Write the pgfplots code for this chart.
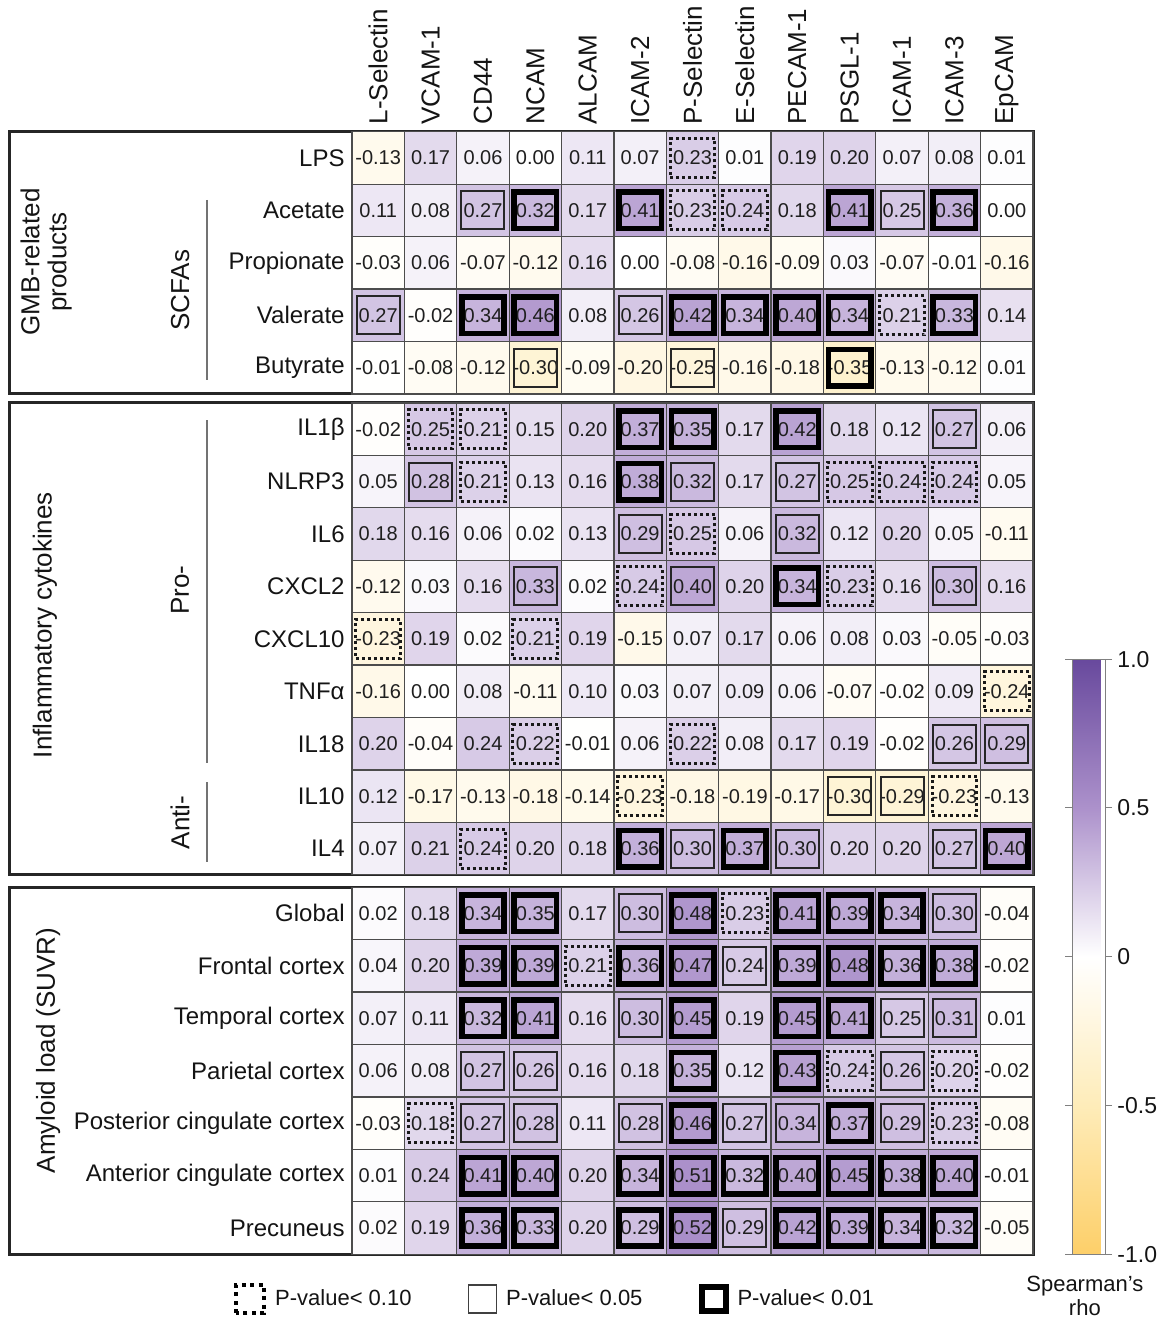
\documentclass[border=0pt]{standalone}
\usepackage{fontspec}
\setmainfont{Liberation Sans}
\usepackage{pgfplots}
\usepackage{pgfplotstable}
\pgfplotsset{compat=1.18}
% significance boxes drawn inside the cells
\pgfdeclareplotmark{blank}{}
\pgfdeclareplotmark{boxdot}{\pgfpathrectangle{\pgfqpoint{-11.2pt}{-9.75pt}}{\pgfqpoint{22.4pt}{19.5pt}}\pgfusepathqstroke}
\pgfdeclareplotmark{boxthin}{\pgfpathrectangle{\pgfqpoint{-10.75pt}{-9.5pt}}{\pgfqpoint{21.5pt}{19pt}}\pgfusepathqstroke}
\pgfdeclareplotmark{boxthick}{\pgfpathrectangle{\pgfqpoint{-10.6pt}{-9.1pt}}{\pgfqpoint{21.2pt}{18.2pt}}\pgfusepathqstroke}
% r = row (0 LPS ... 20 Precuneus), c = column (0 L-Selectin ... 12 EpCAM)
% v = Spearman's rho, k = box (0 none, 1 P<0.10, 2 P<0.05, 3 P<0.01)
\pgfplotstableread[row sep=\\]{
r c v k\\
0 0 -0.13 0\\ 0 1 0.17 0\\ 0 2 0.06 0\\ 0 3 0.00 0\\ 0 4 0.11 0\\ 0 5 0.07 0\\ 0 6 0.23 1\\ 0 7 0.01 0\\ 0 8 0.19 0\\ 0 9 0.20 0\\ 0 10 0.07 0\\ 0 11 0.08 0\\ 0 12 0.01 0\\
1 0 0.11 0\\ 1 1 0.08 0\\ 1 2 0.27 2\\ 1 3 0.32 3\\ 1 4 0.17 0\\ 1 5 0.41 3\\ 1 6 0.23 1\\ 1 7 0.24 1\\ 1 8 0.18 0\\ 1 9 0.41 3\\ 1 10 0.25 2\\ 1 11 0.36 3\\ 1 12 0.00 0\\
2 0 -0.03 0\\ 2 1 0.06 0\\ 2 2 -0.07 0\\ 2 3 -0.12 0\\ 2 4 0.16 0\\ 2 5 0.00 0\\ 2 6 -0.08 0\\ 2 7 -0.16 0\\ 2 8 -0.09 0\\ 2 9 0.03 0\\ 2 10 -0.07 0\\ 2 11 -0.01 0\\ 2 12 -0.16 0\\
3 0 0.27 2\\ 3 1 -0.02 0\\ 3 2 0.34 3\\ 3 3 0.46 3\\ 3 4 0.08 0\\ 3 5 0.26 2\\ 3 6 0.42 3\\ 3 7 0.34 3\\ 3 8 0.40 3\\ 3 9 0.34 3\\ 3 10 0.21 1\\ 3 11 0.33 3\\ 3 12 0.14 0\\
4 0 -0.01 0\\ 4 1 -0.08 0\\ 4 2 -0.12 0\\ 4 3 -0.30 2\\ 4 4 -0.09 0\\ 4 5 -0.20 0\\ 4 6 -0.25 2\\ 4 7 -0.16 0\\ 4 8 -0.18 0\\ 4 9 -0.35 3\\ 4 10 -0.13 0\\ 4 11 -0.12 0\\ 4 12 0.01 0\\
5 0 -0.02 0\\ 5 1 0.25 1\\ 5 2 0.21 1\\ 5 3 0.15 0\\ 5 4 0.20 0\\ 5 5 0.37 3\\ 5 6 0.35 3\\ 5 7 0.17 0\\ 5 8 0.42 3\\ 5 9 0.18 0\\ 5 10 0.12 0\\ 5 11 0.27 2\\ 5 12 0.06 0\\
6 0 0.05 0\\ 6 1 0.28 2\\ 6 2 0.21 1\\ 6 3 0.13 0\\ 6 4 0.16 0\\ 6 5 0.38 3\\ 6 6 0.32 2\\ 6 7 0.17 0\\ 6 8 0.27 2\\ 6 9 0.25 1\\ 6 10 0.24 1\\ 6 11 0.24 1\\ 6 12 0.05 0\\
7 0 0.18 0\\ 7 1 0.16 0\\ 7 2 0.06 0\\ 7 3 0.02 0\\ 7 4 0.13 0\\ 7 5 0.29 2\\ 7 6 0.25 1\\ 7 7 0.06 0\\ 7 8 0.32 2\\ 7 9 0.12 0\\ 7 10 0.20 0\\ 7 11 0.05 0\\ 7 12 -0.11 0\\
8 0 -0.12 0\\ 8 1 0.03 0\\ 8 2 0.16 0\\ 8 3 0.33 2\\ 8 4 0.02 0\\ 8 5 0.24 1\\ 8 6 0.40 2\\ 8 7 0.20 0\\ 8 8 0.34 3\\ 8 9 0.23 1\\ 8 10 0.16 0\\ 8 11 0.30 2\\ 8 12 0.16 0\\
9 0 -0.23 1\\ 9 1 0.19 0\\ 9 2 0.02 0\\ 9 3 0.21 1\\ 9 4 0.19 0\\ 9 5 -0.15 0\\ 9 6 0.07 0\\ 9 7 0.17 0\\ 9 8 0.06 0\\ 9 9 0.08 0\\ 9 10 0.03 0\\ 9 11 -0.05 0\\ 9 12 -0.03 0\\
10 0 -0.16 0\\ 10 1 0.00 0\\ 10 2 0.08 0\\ 10 3 -0.11 0\\ 10 4 0.10 0\\ 10 5 0.03 0\\ 10 6 0.07 0\\ 10 7 0.09 0\\ 10 8 0.06 0\\ 10 9 -0.07 0\\ 10 10 -0.02 0\\ 10 11 0.09 0\\ 10 12 -0.24 1\\
11 0 0.20 0\\ 11 1 -0.04 0\\ 11 2 0.24 0\\ 11 3 0.22 1\\ 11 4 -0.01 0\\ 11 5 0.06 0\\ 11 6 0.22 1\\ 11 7 0.08 0\\ 11 8 0.17 0\\ 11 9 0.19 0\\ 11 10 -0.02 0\\ 11 11 0.26 2\\ 11 12 0.29 2\\
12 0 0.12 0\\ 12 1 -0.17 0\\ 12 2 -0.13 0\\ 12 3 -0.18 0\\ 12 4 -0.14 0\\ 12 5 -0.23 1\\ 12 6 -0.18 0\\ 12 7 -0.19 0\\ 12 8 -0.17 0\\ 12 9 -0.30 2\\ 12 10 -0.29 2\\ 12 11 -0.23 1\\ 12 12 -0.13 0\\
13 0 0.07 0\\ 13 1 0.21 0\\ 13 2 0.24 1\\ 13 3 0.20 0\\ 13 4 0.18 0\\ 13 5 0.36 3\\ 13 6 0.30 2\\ 13 7 0.37 3\\ 13 8 0.30 2\\ 13 9 0.20 0\\ 13 10 0.20 0\\ 13 11 0.27 2\\ 13 12 0.40 3\\
14 0 0.02 0\\ 14 1 0.18 0\\ 14 2 0.34 3\\ 14 3 0.35 3\\ 14 4 0.17 0\\ 14 5 0.30 2\\ 14 6 0.48 3\\ 14 7 0.23 1\\ 14 8 0.41 3\\ 14 9 0.39 3\\ 14 10 0.34 3\\ 14 11 0.30 2\\ 14 12 -0.04 0\\
15 0 0.04 0\\ 15 1 0.20 0\\ 15 2 0.39 3\\ 15 3 0.39 3\\ 15 4 0.21 1\\ 15 5 0.36 3\\ 15 6 0.47 3\\ 15 7 0.24 2\\ 15 8 0.39 3\\ 15 9 0.48 3\\ 15 10 0.36 3\\ 15 11 0.38 3\\ 15 12 -0.02 0\\
16 0 0.07 0\\ 16 1 0.11 0\\ 16 2 0.32 3\\ 16 3 0.41 3\\ 16 4 0.16 0\\ 16 5 0.30 2\\ 16 6 0.45 3\\ 16 7 0.19 0\\ 16 8 0.45 3\\ 16 9 0.41 3\\ 16 10 0.25 2\\ 16 11 0.31 2\\ 16 12 0.01 0\\
17 0 0.06 0\\ 17 1 0.08 0\\ 17 2 0.27 2\\ 17 3 0.26 2\\ 17 4 0.16 0\\ 17 5 0.18 0\\ 17 6 0.35 3\\ 17 7 0.12 0\\ 17 8 0.43 3\\ 17 9 0.24 1\\ 17 10 0.26 2\\ 17 11 0.20 1\\ 17 12 -0.02 0\\
18 0 -0.03 0\\ 18 1 0.18 1\\ 18 2 0.27 2\\ 18 3 0.28 2\\ 18 4 0.11 0\\ 18 5 0.28 2\\ 18 6 0.46 3\\ 18 7 0.27 2\\ 18 8 0.34 2\\ 18 9 0.37 3\\ 18 10 0.29 2\\ 18 11 0.23 1\\ 18 12 -0.08 0\\
19 0 0.01 0\\ 19 1 0.24 0\\ 19 2 0.41 3\\ 19 3 0.40 3\\ 19 4 0.20 0\\ 19 5 0.34 3\\ 19 6 0.51 3\\ 19 7 0.32 3\\ 19 8 0.40 3\\ 19 9 0.45 3\\ 19 10 0.38 3\\ 19 11 0.40 3\\ 19 12 -0.01 0\\
20 0 0.02 0\\ 20 1 0.19 0\\ 20 2 0.36 3\\ 20 3 0.33 3\\ 20 4 0.20 0\\ 20 5 0.29 3\\ 20 6 0.52 3\\ 20 7 0.29 2\\ 20 8 0.42 3\\ 20 9 0.39 3\\ 20 10 0.34 3\\ 20 11 0.32 3\\ 20 12 -0.05 0\\
}\rhotable
\def\ypos{-(\thisrow{r}+0.5)-0.172*(\thisrow{r}>4)-0.236*(\thisrow{r}>13)}
\begin{document}
\begin{tikzpicture}
\begin{axis}[
  at={(176pt,-65.9pt)}, anchor=north west,
  scale only axis, width=340.5pt, height=561.2pt,
  xmin=-0.5, xmax=12.5, ymin=-21.408, ymax=0,
  clip=false,
  axis line style={draw=none},
  major tick length=0pt,
  xtick={0,...,12},
  xticklabels={L-Selectin,VCAM-1,CD44,NCAM,ALCAM,ICAM-2,P-Selectin,E-Selectin,PECAM-1,PSGL-1,ICAM-1,ICAM-3,EpCAM},
  xticklabel pos=upper,
  xticklabel style={rotate=90, anchor=west, inner sep=0pt, font=\fontsize{13}{15}\selectfont, text=black!92},
  xticklabel shift=3.5pt,
  ytick={-0.5,-1.5,-2.5,-3.5,-4.5,-5.672,-6.672,-7.672,-8.672,-9.672,-10.672,-11.672,-12.672,-13.672,-14.908,-15.908,-16.908,-17.908,-18.908,-19.908,-20.908},
  yticklabels={LPS,Acetate,Propionate,Valerate,Butyrate,IL1β,NLRP3,IL6,CXCL2,CXCL10,TNFα,IL18,IL10,IL4,Global,Frontal cortex,Temporal cortex,Parietal cortex,Posterior cingulate cortex,Anterior cingulate cortex,Precuneus},
  yticklabel style={anchor=east, inner sep=0pt, font=\fontsize{12}{14}\selectfont, text=black!92},
  yticklabel shift=3.5pt,
  colormap={spear}{rgb255=(253,207,105) rgb255=(254,236,185) rgb255=(255,255,255) rgb255=(172,145,203) rgb255=(104,73,157)},
  point meta min=-1, point meta max=1,
  colorbar,
  colorbar style={
    at={(parent axis.south east)}, anchor=south west, xshift=11pt,
    scale only axis, width=16.5pt, height=297.5pt,
    ytick={-1,-0.5,0,0.5,1},
    yticklabels={-1.0,-0.5,0,0.5,1.0},
    yticklabel style={font=\fontsize{11.5}{13}\selectfont, inner sep=0pt, anchor=west, text=black!92},
    yticklabel shift=2.5pt,
    axis line style={draw=black!50, line width=0.5pt},
    tick style={draw=black!50, line width=0.5pt},
    major tick length=3.5pt,
    tick align=outside,
    ytick pos=both, yticklabel pos=right,
  },
  legend style={at={(0.2996,-0.0399)}, anchor=center, draw=none, fill=none,
    legend columns=3, font=\fontsize{11}{13}\selectfont, text=black!92,
    /tikz/every odd column/.append style={column sep=2.5pt},
    /tikz/every even column/.append style={column sep=26pt}},
]
\addlegendimage{legend image code/.code={\draw[black, line width=2pt, dash pattern=on 2pt off 2.2pt] (0pt,-7pt) rectangle (14pt,7pt);}}
\addlegendentry{P-value< 0.10}
\addlegendimage{legend image code/.code={\draw[black!75, line width=0.8pt] (0pt,-7pt) rectangle (14pt,7pt);}}
\addlegendentry{P-value< 0.05}
\addlegendimage{legend image code/.code={\draw[black, line width=3pt] (1pt,-6pt) rectangle (13pt,6pt);}}
\addlegendentry{P-value< 0.01}

% cells
\addplot [scatter, only marks, mark=square*, mark size=13.1pt, line width=0.6pt,
  scatter/use mapped color={draw=black!70, fill=mapped color},
  point meta=\thisrow{v}, forget plot]
  table [x=c, y expr=\ypos] {\rhotable};
% numbers
\addplot [only marks, mark=none, point meta=\thisrow{v}, forget plot,
  nodes near coords={\pgfmathprintnumber[fixed, fixed zerofill, precision=2, assume math mode=true]{\pgfplotspointmeta}},
  every node near coord/.style={anchor=center, inner sep=0pt, font=\fontsize{10}{12}\selectfont, text=black!88}]
  table [x=c, y expr=\ypos] {\rhotable};
% significance boxes
\addplot [scatter, only marks, forget plot, point meta=explicit symbolic,
  scatter/classes={
    0={mark=blank},
    1={mark=boxdot, draw=black!90, line width=1.5pt, dash pattern=on 1.5pt off 1.5pt},
    2={mark=boxthin, draw=black!85, line width=1pt, solid},
    3={mark=boxthick, draw=black, line width=2.8pt, solid}}]
  table [x=c, y expr=\ypos, meta=k] {\rhotable};

% panel frames and group labels
\draw[line width=1.5pt, black!85] (axis cs:-7.03,0) rectangle (axis cs:12.5,-5);
\draw[line width=1.5pt, black!85] (axis cs:-7.03,-5.172) rectangle (axis cs:12.5,-14.172);
\draw[line width=1.5pt, black!85] (axis cs:-7.03,-14.408) rectangle (axis cs:12.5,-21.408);
\draw[black!55, line width=0.8pt] (axis cs:-3.267,-1.30) -- (axis cs:-3.267,-4.74);
\draw[black!55, line width=0.8pt] (axis cs:-3.267,-5.50) -- (axis cs:-3.267,-12.03);
\draw[black!55, line width=0.8pt] (axis cs:-3.267,-12.41) -- (axis cs:-3.267,-13.93);
\node[rotate=90, align=center, font=\fontsize{13}{13.5}\selectfont, text=black!92] at (axis cs:-6.34,-2.485) {GMB-related\\products};
\node[rotate=90, font=\fontsize{13}{15}\selectfont, text=black!92] at (axis cs:-6.36,-9.41) {Inflammatory cytokines};
\node[rotate=90, font=\fontsize{13}{15}\selectfont, text=black!92] at (axis cs:-6.30,-17.52) {Amyloid load (SUVR)};
\node[rotate=90, font=\fontsize{13}{15}\selectfont, text=black!92] at (axis cs:-3.78,-3.02) {SCFAs};
\node[rotate=90, font=\fontsize{13}{15}\selectfont, text=black!92] at (axis cs:-3.78,-8.74) {Pro-};
\node[rotate=90, font=\fontsize{13}{15}\selectfont, text=black!92] at (axis cs:-3.78,-13.17) {Anti-};
\node[align=center, font=\fontsize{11}{12}\selectfont, text=black!92] at (axis cs:13.49,-22.206) {Spearman's\\rho};
\end{axis}
\pgfresetboundingbox
\useasboundingbox (0pt,0pt) rectangle (582pt,-660pt);
\end{tikzpicture}
\end{document}
